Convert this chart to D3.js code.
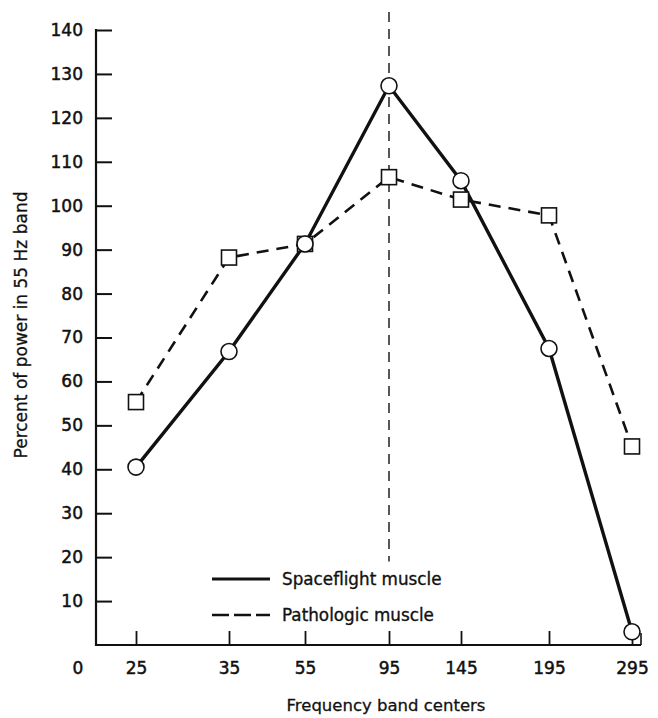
<!DOCTYPE html>
<html><head><meta charset="utf-8">
<script src="https://cdn.jsdelivr.net/npm/d3@7/dist/d3.min.js"></script>
<style>
body{margin:0;background:#fff;}
svg{display:block;}
text{font-family:"DejaVu Sans",sans-serif;fill:#111;}
</style></head>
<body>
<svg id="chart" width="658" height="718"></svg>
<script>
// Data
const bands = [25, 35, 55, 95, 145, 195, 295];
const bandLabels = ["25", "35", "55", "95", "145", "195", "295"];
const spaceflight = [40.5, 66.8, 91.3, 127.3, 105.7, 67.5, 3];
const pathologic = [55.3, 88.2, 91.3, 106.5, 101.4, 97.8, 45.2];
const yTicks = [10, 20, 30, 40, 50, 60, 70, 80, 90, 100, 110, 120, 130, 140];
const seriesNames = ["Spaceflight muscle", "Pathologic muscle"];

const svg = d3.select("#chart");
const ink = "#111";

const y = d3.scaleLinear().domain([0, 140]).range([645, 30]);
// hand-drawn, uneven spacing of the band centres
const x = d3.scaleLinear()
  .domain([0, 25, 35, 55, 95, 145, 195, 295])
  .range([96, 136, 229, 305, 389, 461, 549, 632]);

function heavy(sel, w) { sel.attr("stroke", ink).attr("stroke-width", w).attr("paint-order", "stroke"); }

// Y axis
const yAxis = svg.append("g").attr("transform", `translate(${x(0)},0)`)
  .call(d3.axisLeft(y).tickValues(yTicks).tickSize(-16).tickSizeOuter(0).tickPadding(13));
yAxis.select(".domain").remove();
yAxis.selectAll(".tick line").attr("stroke", ink).attr("stroke-width", 2);
yAxis.selectAll(".tick text").attr("font-size", 17).attr("font-family", "DejaVu Sans").attr("fill", ink).call(heavy, 0.5);
svg.append("line").attr("x1", x(0)).attr("x2", x(0)).attr("y1", y(140) - 1).attr("y2", y(0) + 1)
  .attr("stroke", ink).attr("stroke-width", 2.2);

// X axis
const xAxis = svg.append("g").attr("transform", `translate(0,${y(0)})`)
  .call(d3.axisBottom(x).tickValues(bands).tickFormat((d, i) => bandLabels[i]).tickSize(-14).tickSizeOuter(0).tickPadding(17));
xAxis.select(".domain").remove();
xAxis.selectAll(".tick line").attr("stroke", ink).attr("stroke-width", 1.8);
xAxis.selectAll(".tick text").attr("font-size", 17).attr("font-family", "DejaVu Sans").attr("fill", ink).call(heavy, 0.5);
svg.append("line").attr("x1", x(0) - 1).attr("x2", x(295) + 9).attr("y1", y(0)).attr("y2", y(0))
  .attr("stroke", ink).attr("stroke-width", 2.2);
svg.append("line").attr("x1", x(295) + 9).attr("x2", x(295) + 9).attr("y1", y(0)).attr("y2", y(0) - 12)
  .attr("stroke", ink).attr("stroke-width", 1.6);
svg.append("text").attr("x", x(0) - 18).attr("y", y(0) + 17).attr("dy", "0.71em")
  .attr("text-anchor", "middle").attr("font-size", 17).call(heavy, 0.5).text("0");

// Vertical dashed reference line at 95 Hz
svg.append("line").attr("x1", x(95)).attr("x2", x(95)).attr("y1", 12).attr("y2", y(19))
  .attr("stroke", ink).attr("stroke-width", 1.4).attr("stroke-dasharray", "10,7");

// Lines
const line = d3.line().x((d, i) => x(bands[i])).y(d => y(d));
svg.append("path").datum(pathologic).attr("d", line).attr("fill", "none")
  .attr("stroke", ink).attr("stroke-width", 2.6).attr("stroke-dasharray", "12,8");
svg.append("path").datum(spaceflight).attr("d", line).attr("fill", "none")
  .attr("stroke", ink).attr("stroke-width", 3.4);

// Markers
svg.selectAll("rect.pm").data(pathologic).enter().append("rect").attr("class", "pm")
  .attr("x", (d, i) => x(bands[i]) - 7.5).attr("y", d => y(d) - 7.5)
  .attr("width", 15).attr("height", 15).attr("fill", "#fff").attr("stroke", ink).attr("stroke-width", 1.6);
svg.selectAll("circle.sm").data(spaceflight).enter().append("circle").attr("class", "sm")
  .attr("cx", (d, i) => x(bands[i])).attr("cy", d => y(d)).attr("r", 8)
  .attr("fill", "#fff").attr("stroke", ink).attr("stroke-width", 1.6);

// Legend
const lg = svg.append("g");
lg.append("line").attr("x1", 212).attr("x2", 270).attr("y1", 579).attr("y2", 579)
  .attr("stroke", ink).attr("stroke-width", 3.2);
lg.append("line").attr("x1", 212).attr("x2", 270).attr("y1", 615).attr("y2", 615)
  .attr("stroke", ink).attr("stroke-width", 2.6).attr("stroke-dasharray", "17,5");
lg.append("text").attr("x", 282).attr("y", 585).attr("font-size", 16.8).call(heavy, 0.35).text(seriesNames[0]);
lg.append("text").attr("x", 282).attr("y", 621).attr("font-size", 16.8).call(heavy, 0.35).text(seriesNames[1]);

// Axis titles
svg.append("text").attr("transform", "translate(27,325) rotate(-90)").attr("text-anchor", "middle")
  .attr("font-size", 17).call(heavy, 0.3).text("Percent of power in 55 Hz band");
svg.append("text").attr("x", 386).attr("y", 711).attr("text-anchor", "middle")
  .attr("font-size", 16.5).call(heavy, 0.3).text("Frequency band centers");
</script>
</body></html>
